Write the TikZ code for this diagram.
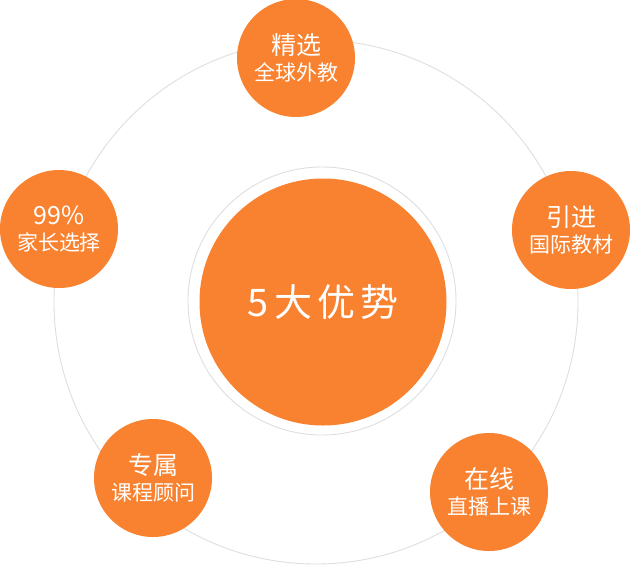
\documentclass[tikz,border=0pt]{standalone}
\usepackage{fontspec}
\usepackage{xcolor}
\usepackage{tikz}
\newfontfamily\cjk{Noto Sans CJK SC}
\newcommand\headfont{\fontsize{25}{27}\selectfont}
\definecolor{brand}{RGB}{248,130,48}
\definecolor{ringgray}{RGB}{222,222,222}

\begin{document}
\begin{tikzpicture}[x=1pt,y=-1pt,font=\cjk,
  ring/.style={draw=ringgray,line width=0.9pt},
  adv/.style={circle,fill=brand,text=white,minimum size=118pt,inner sep=0pt,align=center,font=\cjk\fontsize{21}{26}\selectfont},
  hub/.style={circle,fill=brand,text=white,minimum size=247pt,inner sep=0pt,font=\cjk\fontsize{38}{42}\selectfont}]
  \useasboundingbox (0,0) rectangle (630,566);
  % rings
  \draw[ring] (316,302) circle (262pt);
  \draw[ring] (322,301) circle (134pt);
  % centre
  \node[hub] (main) at (323,302) {5\hspace{5pt}大\hspace{5pt}优\hspace{5pt}势};
  % five advantages
  \node[adv] (select) at (296,58)  {{\headfont 精选}\\全球外教};
  \node[adv] (books)  at (571,230) {{\headfont 引进}\\国际教材};
  \node[adv] (live)   at (489,492) {{\headfont 在线}\\直播上课};
  \node[adv] (tutor)  at (153,478) {{\headfont 专属}\\课程顾问};
  \node[adv] (parent) at (59,229)  {{\headfont 99\%}\\家长选择};
\end{tikzpicture}
\end{document}
